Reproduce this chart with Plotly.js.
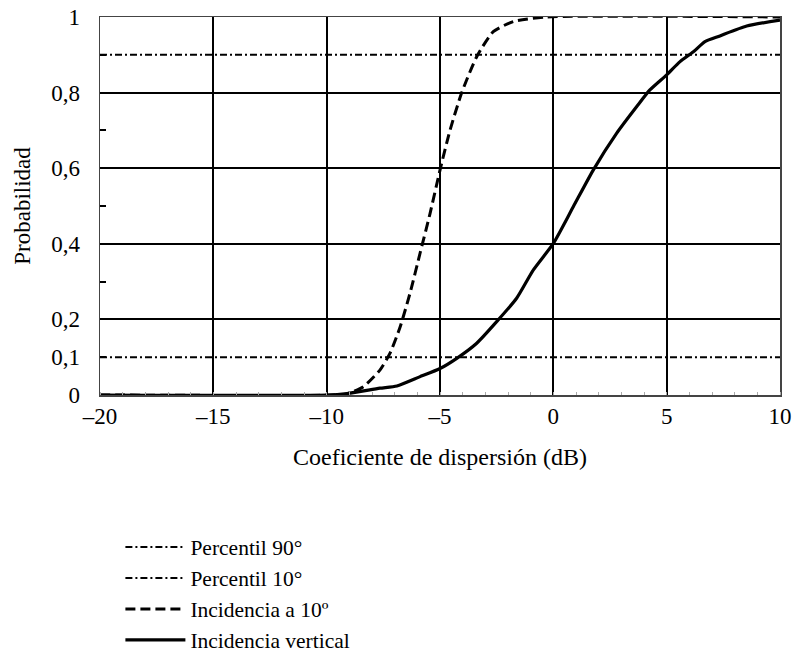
<!DOCTYPE html>
<html>
<head>
<meta charset="utf-8">
<script src="https://cdn.plot.ly/plotly-3.0.1.min.js"></script>
<style>html,body{margin:0;padding:0;background:#fff;}#chart{width:793px;height:661px;}</style>
</head>
<body>
<div id="chart"></div>
<script>
// X tick values and labels
const xTickVals = [-20, -15, -10, -5, 0, 5, 10];
const xTickText = ['–20', '–15', '–10', '–5', '0', '5', '10'];
const yTickVals = [0, 0.1, 0.2, 0.3, 0.4, 0.5, 0.6, 0.7, 0.8, 0.9, 1];
const yTickText = ['0', '0,1', '0,2', '', '0,4', '', '0,6', '', '0,8', '', '1'];
const yGridVals = [0.2, 0.4, 0.6, 0.8];

// Percentile lines
const p90X = [-20, 10];
const p90Y = [0.9, 0.9];
const p10X = [-20, 10];
const p10Y = [0.1, 0.1];

// Incidencia a 10º (dashed)
const inc10X = [-20, -9.5, -9.1, -8.38, -7.65, -7.21, -6.76, -6.32, -5.88, -5.44, -5.0, -4.56, -4.04, -3.38, -2.65, -1.76, -0.29, 10];
const inc10Y = [0, 0, 0.003, 0.022, 0.066, 0.11, 0.18, 0.27, 0.375, 0.48, 0.595, 0.70, 0.80, 0.895, 0.961, 0.988, 1.0, 1.0];

// Incidencia vertical (solid)
const incVX = [-20, -10, -9.1, -7.65, -6.9, -5.9, -5.0, -4.26, -3.38, -2.5, -1.62, -0.88, 0, 0.88, 1.76, 2.79, 3.68, 4.26, 5.0, 5.59, 6.18, 6.69, 7.35, 8.53, 10];
const incVY = [0, 0, 0.004, 0.018, 0.024, 0.048, 0.07, 0.097, 0.137, 0.194, 0.256, 0.331, 0.401, 0.498, 0.595, 0.692, 0.763, 0.807, 0.847, 0.882, 0.908, 0.935, 0.950, 0.976, 0.992];

const names = ['Percentil 90°', 'Percentil 10°', 'Incidencia a 10º', 'Incidencia vertical'];

const FONT = '"Liberation Serif", "Times New Roman", serif';

const traces = [
  {x: p90X, y: p90Y, name: names[0], mode: 'lines', line: {color: '#000', width: 2, dash: '7px,3px,2px,3px'}},
  {x: p10X, y: p10Y, name: names[1], mode: 'lines', line: {color: '#000', width: 2, dash: '7px,3px,2px,3px'}},
  {x: inc10X, y: inc10Y, name: names[2], mode: 'lines', line: {color: '#000', width: 3, dash: '10px,5px', shape: 'spline', smoothing: 0.6}},
  {x: incVX, y: incVY, name: names[3], mode: 'lines', line: {color: '#000', width: 3.2, shape: 'spline', smoothing: 0.6}}
];

const layout = {
  width: 793, height: 661,
  margin: {l: 100, r: 13, t: 17, b: 266, autoexpand: false},
  paper_bgcolor: '#fff', plot_bgcolor: '#fff',
  font: {family: FONT, size: 23, color: '#000'},
  showlegend: true,
  legend: {x: 0.03, y: -0.348, xanchor: 'left', yanchor: 'top', itemwidth: 60, font: {family: FONT, size: 21.5, color: '#000'}, tracegroupgap: 0, bgcolor: 'rgba(0,0,0,0)'},
  xaxis: {
    range: [-20, 10], tickvals: xTickVals, ticktext: xTickText,
    showgrid: true, gridcolor: '#000', gridwidth: 2, zeroline: false,
    showline: true, linecolor: '#444', linewidth: 1.5, mirror: true,
    ticks: '', ticklabelstandoff: 0,
    tickfont: {family: FONT, size: 23},
    minor: {dtick: 1, ticks: 'inside', ticklen: 3, tickcolor: '#aaa', showgrid: false},
    title: {text: 'Coeficiente de dispersión (dB)', font: {family: FONT, size: 24}, standoff: 20}
  },
  yaxis: {
    range: [0, 1], tickvals: yTickVals, ticktext: yTickText,
    showgrid: false, zeroline: false,
    showline: true, linecolor: '#444', linewidth: 1.5, mirror: true,
    ticks: 'inside', ticklen: 6, tickwidth: 2, tickcolor: '#000', ticklabelstandoff: 14,
    tickfont: {family: FONT, size: 23},
    minor: {tickvals: yGridVals, showgrid: true, gridcolor: '#000', gridwidth: 2, ticks: ''},
    title: {text: 'Probabilidad', font: {family: FONT, size: 23}, standoff: 14}
  }
};

Plotly.newPlot('chart', traces, layout, {displayModeBar: false, staticPlot: true});
</script>
</body>
</html>
